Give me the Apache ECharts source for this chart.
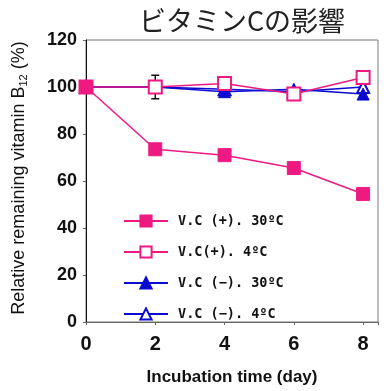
<!DOCTYPE html>
<html>
<head>
<meta charset="utf-8">
<script src="https://cdn.jsdelivr.net/npm/echarts@6/dist/echarts.min.js"></script>
<style>
  html, body { margin: 0; padding: 0; background: #fff; }
  #chart { width: 386px; height: 391px; }
</style>
</head>
<body>
<div id="chart"></div>
<script>
// Incubation days
const days = [0, 2, 4, 6, 8];
// Remaining vitamin B12 (%) per condition
const vcPlus30 = [100, 73.5, 71, 65.5, 54.5];
const vcPlus4 = [100, 100, 101.5, 97, 104];
const vcMinus30 = [100, 100, 98, 99, 97];
const vcMinus4 = [100, 100, 99, 98, 100];
// Error bar: [day, low, high]
const errBars = [[2, 95, 105]];
// Series names
const names = ['V.C (+). 30\u00baC', 'V.C(+). 4\u00baC', 'V.C (\u2212). 30\u00baC', 'V.C (\u2212). 4\u00baC'];
const yTicks = [0, 20, 40, 60, 80, 100, 120];
const xTicks = [0, 2, 4, 6, 8];

const PINK = '#ee1a82';
const BLUE = '#0a0ad0';

const pair = arr => days.map((d, i) => [d, arr[i]]);

const chart = echarts.init(document.getElementById('chart'), null, { renderer: 'canvas' });

chart.setOption({
  animation: false,
  backgroundColor: '#fff',
  title: {
    text: '\u30d3\u30bf\u30df\u30f3C\u306e\u5f71\u97ff',
    left: 237, textAlign: 'center', top: 2,
    textStyle: { fontFamily: 'Noto Sans CJK JP', fontSize: 27, fontWeight: 'normal', color: '#222' }
  },
  grid: { left: 86, right: 8, top: 40, bottom: 60, show: true, borderColor: '#777', borderWidth: 1 },
  legend: {
    orient: 'vertical', left: 118, top: 209,
    itemWidth: 44, itemHeight: 14, itemGap: 17,
    textStyle: { fontFamily: 'DejaVu Sans Mono', fontWeight: 'bold', fontSize: 13.5, color: '#111', padding: [0, 0, 0, 5] },
    data: names
  },
  xAxis: {
    type: 'value', min: 0, max: 8.43, interval: 2,
    name: 'Incubation time (day)', nameLocation: 'middle', nameGap: 47,
    nameTextStyle: { fontFamily: 'Liberation Sans', fontWeight: 'bold', fontSize: 17, color: '#111' },
    axisLine: { lineStyle: { color: '#666', width: 1 } },
    axisTick: { show: true, inside: false, length: 3, lineStyle: { color: '#666' } },
    axisLabel: {
      margin: 12, fontFamily: 'Liberation Sans', fontWeight: 'bold', fontSize: 20, color: '#111',
      formatter: v => xTicks.includes(v) ? String(v) : ''
    },
    splitLine: { show: false }
  },
  yAxis: {
    type: 'value', min: 0, max: 120, interval: 20,
    name: '{n|Relative remaining vitamin B}{s|12}{n| (%)}', nameLocation: 'middle', nameGap: 57,
    nameTextStyle: {
      padding: [0, 0, 0, 6],
      rich: {
        n: { fontFamily: 'Liberation Sans', fontSize: 18, color: '#111' },
        s: { fontFamily: 'Liberation Sans', fontSize: 11, color: '#111', padding: [8, 0, 0, 0] }
      }
    },
    axisLine: { show: true, lineStyle: { color: '#111', width: 1 } },
    axisTick: { show: true, inside: false, length: 3, lineStyle: { color: '#666' } },
    axisLabel: {
      margin: 9, fontFamily: 'Liberation Sans', fontWeight: 'bold', fontSize: 18, color: '#111',
      formatter: v => yTicks.includes(v) ? String(v) : ''
    },
    splitLine: { show: false }
  },
  series: [
    {
      name: names[3], type: 'line', data: pair(vcMinus4), z: 2,
      symbol: 'triangle', symbolSize: 12,
      lineStyle: { color: BLUE, width: 1.5 },
      itemStyle: { color: '#fff', borderColor: BLUE, borderWidth: 2 }
    },
    {
      name: names[2], type: 'line', data: pair(vcMinus30), z: 3,
      symbol: 'triangle', symbolSize: 12,
      lineStyle: { color: BLUE, width: 1.5 },
      itemStyle: { color: BLUE, borderColor: BLUE, borderWidth: 1 }
    },
    {
      name: names[1], type: 'line', data: pair(vcPlus4), z: 4,
      symbol: 'rect', symbolSize: 13,
      lineStyle: { color: PINK, width: 1.5 },
      itemStyle: { color: '#fff', borderColor: PINK, borderWidth: 2 }
    },
    {
      name: names[0], type: 'line', data: pair(vcPlus30), z: 5,
      symbol: 'rect', symbolSize: 13,
      lineStyle: { color: PINK, width: 1.5 },
      itemStyle: { color: PINK, borderColor: PINK, borderWidth: 1 }
    },
    {
      type: 'custom', z: 1, silent: true,
      data: errBars,
      renderItem: (params, api) => {
        const x = api.coord([api.value(0), api.value(1)])[0];
        const lo = api.coord([api.value(0), api.value(1)])[1];
        const hi = api.coord([api.value(0), api.value(2)])[1];
        const w = 4;
        const st = { stroke: '#111', lineWidth: 1.5 };
        return {
          type: 'group',
          children: [
            { type: 'line', shape: { x1: x, y1: lo, x2: x, y2: hi }, style: st },
            { type: 'line', shape: { x1: x - w, y1: lo, x2: x + w, y2: lo }, style: st },
            { type: 'line', shape: { x1: x - w, y1: hi, x2: x + w, y2: hi }, style: st }
          ]
        };
      }
    }
  ]
});
</script>
</body>
</html>
